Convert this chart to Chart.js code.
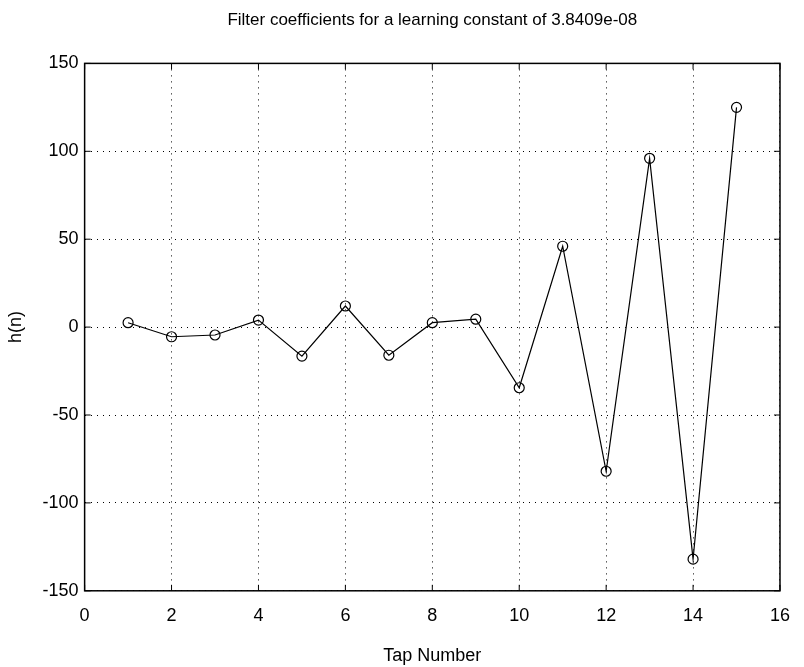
<!DOCTYPE html>
<html>
<head>
<meta charset="utf-8">
<script src="https://cdn.jsdelivr.net/npm/chart.js@4"></script>
<style>
  html, body { margin: 0; padding: 0; background: #fff; }
  #wrap { width: 804px; height: 667px; }
</style>
</head>
<body>
<div id="wrap"><canvas id="chart-taps"></canvas></div>
<script>
// filter tap data
const tapNumbers = [1, 2, 3, 4, 5, 6, 7, 8, 9, 10, 11, 12, 13, 14, 15];
const coefValues = [2.5, -5.5, -4.5, 4, -16.5, 12, -16, 2.5, 4.5, -34.5, 46, -82, 96, -132, 125];
const xTicks = [0, 2, 4, 6, 8, 10, 12, 14, 16];
const yTicks = [-150, -100, -50, 0, 50, 100, 150];

const fontName = "'Liberation Sans', Arial, sans-serif";

// box round the plot area, with small inward ticks (matlab style)
const frameBox = {
    id: 'frameBox',
    afterDraw(chart) {
        const {ctx, chartArea: a, scales} = chart;
        ctx.save();
        ctx.strokeStyle = '#000';
        ctx.lineWidth = 1.5;
        ctx.strokeRect(a.left, a.top, a.right - a.left, a.bottom - a.top);
        ctx.lineWidth = 1;
        xTicks.forEach(v => {
            const x = scales.x.getPixelForValue(v);
            ctx.beginPath();
            ctx.moveTo(x, a.bottom); ctx.lineTo(x, a.bottom - 6);
            ctx.moveTo(x, a.top); ctx.lineTo(x, a.top + 6);
            ctx.stroke();
        });
        yTicks.forEach(v => {
            const y = scales.y.getPixelForValue(v);
            ctx.beginPath();
            ctx.moveTo(a.left, y); ctx.lineTo(a.left + 6, y);
            ctx.moveTo(a.right, y); ctx.lineTo(a.right - 6, y);
            ctx.stroke();
        });
        ctx.restore();
    }
};

const dataTaps = {
    datasets: [{
        data: tapNumbers.map((n, i) => ({x: n, y: coefValues[i]})),
        borderColor: '#000',
        borderWidth: 1.2,
        tension: 0,
        fill: false,
        pointStyle: 'circle',
        pointRadius: 5,
        pointBorderWidth: 1.2,
        pointBorderColor: '#000',
        pointBackgroundColor: 'rgba(0,0,0,0)'
    }]
};

const configTaps = {
    type: 'line',
    data: dataTaps,
    options: {
        responsive: true,
        maintainAspectRatio: false,
        animation: false,
        layout: {
            padding: {left: 5, right: 17, top: 4, bottom: 0}
        },
        scales: {
            x: {
                type: 'linear',
                min: 0,
                max: 16,
                afterBuildTicks: (axis) => { axis.ticks = xTicks.map(v => ({value: v})); },
                grid: { color: '#000', lineWidth: 1, drawTicks: false },
                border: { display: false, dash: [1, 5] },
                ticks: {
                    color: '#000',
                    padding: 14,
                    font: { family: fontName, size: 18 }
                },
                title: {
                    display: true,
                    text: 'Tap Number',
                    color: '#000',
                    padding: {top: 5, bottom: 0},
                    font: { family: fontName, size: 18 }
                }
            },
            y: {
                min: -150,
                max: 150,
                afterBuildTicks: (axis) => { axis.ticks = yTicks.map(v => ({value: v})); },
                grid: { color: '#000', lineWidth: 1, drawTicks: false },
                border: { display: false, dash: [1, 5] },
                ticks: {
                    color: '#000',
                    padding: 6,
                    font: { family: fontName, size: 18 }
                },
                title: {
                    display: true,
                    text: 'h(n)',
                    color: '#000',
                    padding: {top: 0, bottom: 10},
                    font: { family: fontName, size: 18 }
                }
            }
        },
        plugins: {
            legend: { display: false },
            tooltip: { enabled: false },
            title: {
                display: true,
                fullSize: false,
                text: 'Filter coefficients for a learning constant of 3.8409e-08',
                color: '#000',
                padding: {top: 6, bottom: 33},
                font: { family: fontName, size: 17, weight: 'normal' }
            }
        }
    },
    plugins: [frameBox]
};

const chartTaps = new Chart(
    document.getElementById('chart-taps'),
    configTaps
);
</script>
</body>
</html>
